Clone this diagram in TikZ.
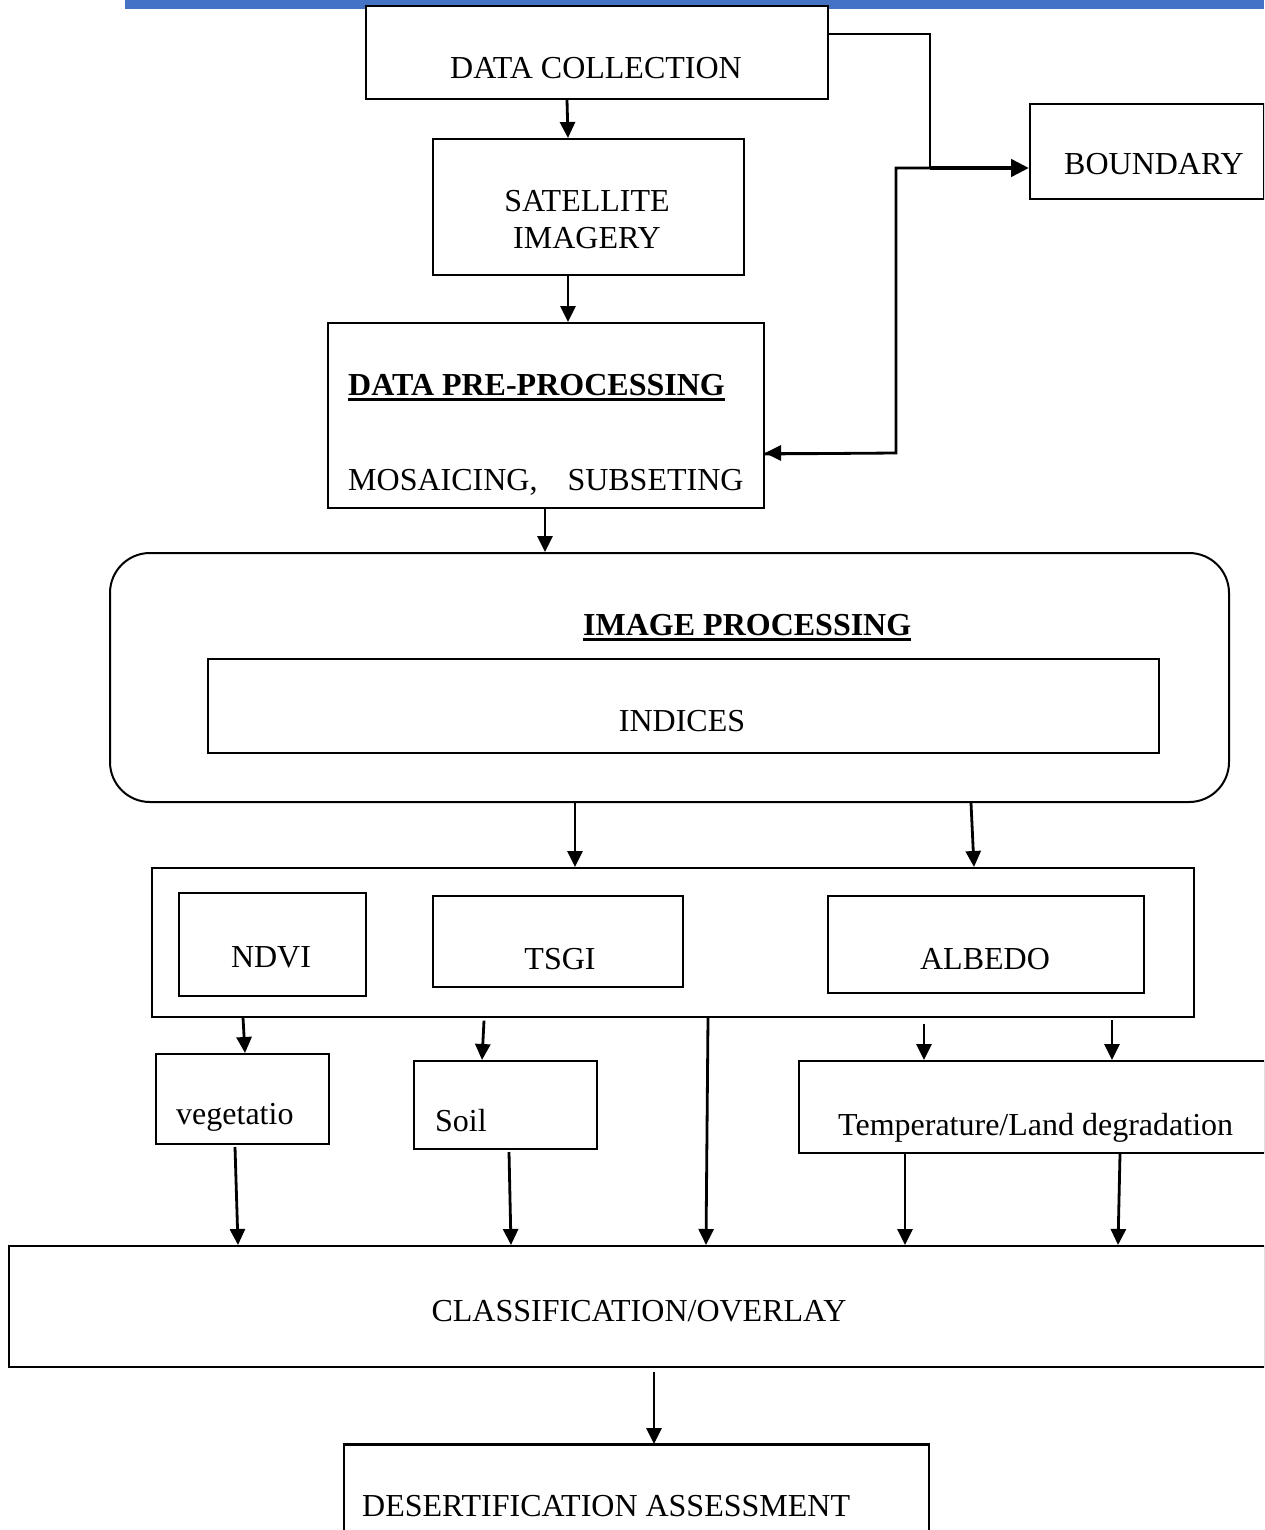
\documentclass[tikz,border=0pt]{standalone}
\usepackage{fontspec}
\setmainfont{Liberation Serif}
\usetikzlibrary{arrows.meta}
\definecolor{barblue}{HTML}{4472C4}
\begin{document}
\begin{tikzpicture}[x=1pt,y=-1pt,
  box/.style={draw=black, line width=2pt, fill=white, rectangle, inner sep=0pt, anchor=north west},
  txt/.style={inner sep=0pt, font=\fontsize{32}{38}\selectfont},
  arr/.style={line width=2.8pt, -{Triangle[length=16pt,width=15pt]}},
  ln/.style={line width=2.8pt},
  uline/.style={line width=3pt}]
\clip (0,0) rectangle (1264,1530);
\fill[white] (0,0) rectangle (1264,1530);
\fill[barblue] (125,0) rectangle (1264,9);

% boxes
\node[box, minimum width=462pt, minimum height=93pt] (dc) at (365,5) {};
\node[box, minimum width=311pt, minimum height=136pt] (sat) at (432,138) {};
\node[box, minimum width=436pt, minimum height=185pt] (pre) at (327,322) {};
\node[box, minimum width=234pt, minimum height=95pt] (bnd) at (1029,103) {};
\node[box, rounded corners=40pt, minimum width=1119pt, minimum height=249pt] (img) at (109,552) {};
\node[box, minimum width=951pt, minimum height=94pt] (ind) at (207,658) {};
\node[box, line width=1.6pt, minimum width=1042pt, minimum height=149pt] (cont) at (151,867) {};
\node[box, minimum width=187pt, minimum height=103pt] (ndvi) at (178,892) {};
\node[box, minimum width=250pt, minimum height=91pt] (tsgi) at (432,895) {};
\node[box, minimum width=316pt, minimum height=97pt] (alb) at (827,895) {};
\node[box, minimum width=173pt, minimum height=90pt] (veg) at (155,1053) {};
\node[box, minimum width=183pt, minimum height=88pt] (soil) at (413,1060) {};
\node[box, minimum width=466pt, minimum height=92pt] (temp) at (798,1060) {};
\node[box, minimum width=1256pt, minimum height=121pt] (cls) at (8,1245) {};
\node[box, line width=1.5pt, minimum width=585pt, minimum height=110pt] (des) at (343,1444) {};
\draw[line width=3pt] (des.north west) -- (des.north east);

% texts
\node[txt, anchor=base] (tdc) at (596,79) {DATA COLLECTION};
\node[txt, anchor=base] (tsat1) at (587,212) {SATELLITE};
\node[txt, anchor=base] (tsat2) at (587,248) {IMAGERY};
\node[txt, anchor=base] (tbnd) at (1154,175) {BOUNDARY};
\node[txt, anchor=base west, font=\fontsize{32}{38}\selectfont\bfseries] (tpre1) at (348,395) {DATA PRE-PROCESSING};
\draw[uline] ([yshift=-4.5pt]tpre1.base west) -- ([yshift=-4.5pt]tpre1.base east);
\node[txt, anchor=base west] (tpre2) at (348,490) {MOSAICING,\hskip 30pt SUBSETING};
\node[txt, anchor=base west, font=\fontsize{32}{38}\selectfont\bfseries] (timg) at (583,635) {IMAGE PROCESSING};
\draw[uline] ([yshift=-4.5pt]timg.base west) -- ([yshift=-4.5pt]timg.base east);
\node[txt, anchor=base] (tind) at (682,731) {INDICES};
\node[txt, anchor=base] (tndvi) at (271,967) {NDVI};
\node[txt, anchor=base] (ttsgi) at (560,969) {TSGI};
\node[txt, anchor=base] (talb) at (985,969) {ALBEDO};
\node[txt, anchor=base west] (tveg) at (176,1124) {vegetatio};
\node[txt, anchor=base west] (tsoil) at (435,1131) {Soil};
\node[txt, anchor=base west] (ttemp) at (838,1135) {Temperature/Land degradation};
\node[txt, anchor=base] (tcls) at (639,1321) {CLASSIFICATION/OVERLAY};
\node[txt, anchor=base west] (tdes) at (362,1516) {DESERTIFICATION ASSESSMENT};

% connectors
\draw[arr] ([xshift=202pt]dc.south west) -- ([xshift=136pt]sat.north west);
\draw[arr] ([xshift=136pt]sat.south west) -- ([xshift=241pt]pre.north west);
\draw[arr] ([xshift=218pt]pre.south west) -- ([xshift=436pt]img.north west);
\coordinate (j1) at (930,168);
\draw[ln] (dc.north east |- 0,34) -- (930,34) -- (j1);
\draw[line width=4.5pt, -{Triangle[length=18pt,width=17pt]}] (j1) -- (bnd.west |- j1);
\draw[ln] (j1) -- (896,168) -- (896,453) -- ([yshift=-38.5pt]pre.east) ;
\draw[arr] (896,453) -- (pre.east |- 0,453);
\draw[arr] ([xshift=466pt]img.south west) -- ([xshift=424pt]cont.north west);
\draw[arr] ([xshift=862pt]img.south west) -- ([xshift=823pt]cont.north west);
\draw[arr] ([xshift=92pt]cont.south west) -- ([xshift=90pt]veg.north west);
\draw[arr] ([xshift=333pt,yshift=-3pt]cont.south west) -- ([xshift=69pt]soil.north west);
\draw[arr] ([xshift=557pt]cont.south west) -- ([xshift=698pt]cls.north west);
\draw[arr] ([xshift=773pt,yshift=-6pt]cont.south west) -- ([xshift=126pt]temp.north west);
\draw[arr] ([xshift=961pt,yshift=-2pt]cont.south west) -- ([xshift=314pt]temp.north west);
\draw[arr] ([xshift=80pt,yshift=-2pt]veg.south west) -- ([xshift=230pt]cls.north west);
\draw[arr] ([xshift=96pt,yshift=-2pt]soil.south west) -- ([xshift=503pt]cls.north west);
\draw[arr] ([xshift=107pt]temp.south west) -- ([xshift=897pt]cls.north west);
\draw[arr] ([xshift=322pt]temp.south west) -- ([xshift=1110pt]cls.north west);
\draw[arr] ([xshift=646pt,yshift=-4pt]cls.south west) -- ([xshift=311pt]des.north west);
\end{tikzpicture}
\end{document}
